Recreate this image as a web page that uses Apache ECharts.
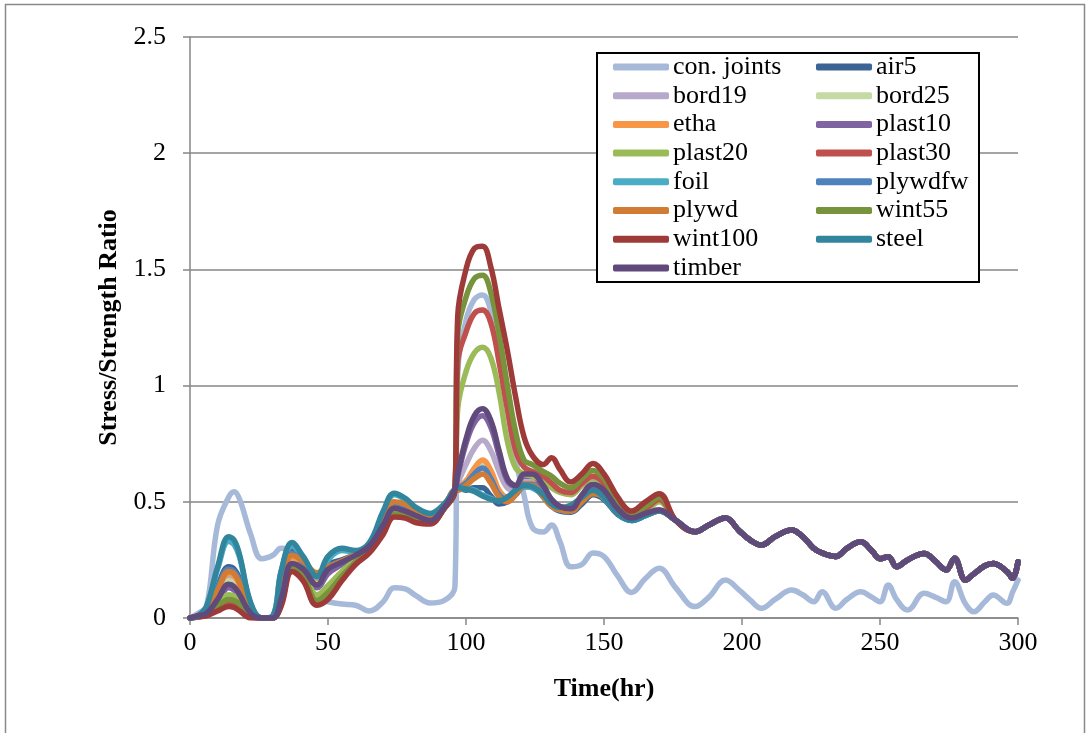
<!DOCTYPE html>
<html><head><meta charset="utf-8">
<script src="https://cdn.jsdelivr.net/npm/echarts@6/dist/echarts.min.js"></script>
<style>html,body{margin:0;padding:0;background:#fff}#c{width:1088px;height:733px}</style>
</head><body><div id="c"></div>
<script>
// time points (hours)
const headTimes = [0,3,6,10,14,16,18,22,26,30,33,37,41,46,50,55,60,65,70,74,78,82,87,92,96,97,100,103,106,109,112,115,118,121,124,128,131,134,138,142,146,150,155,160,165,170];
const tailTimes = [176,183,188,194,199,203,207,212,218,222,226,229,234,238,243,247,250,253,256,260,266,270,274,277,281,284,288,291,296,298,300];

// con. joints over the whole time range
const conJoints = [0,0.02,0.05,0.40,0.52,0.543,0.51,0.36,0.255,0.27,0.30,0.28,0.18,0.085,0.07,0.06,0.055,0.03,0.07,0.13,0.125,0.095,0.065,0.075,0.135,1.05,1.28,1.37,1.39,1.32,1.13,0.9,0.68,0.53,0.39,0.37,0.40,0.33,0.22,0.23,0.28,0.265,0.18,0.11,0.17,0.214,
  0.13,0.049,0.09,0.163,0.12,0.077,0.042,0.08,0.12,0.10,0.07,0.113,0.042,0.08,0.113,0.09,0.07,0.142,0.08,0.034,0.106,0.09,0.07,0.156,0.06,0.027,0.07,0.099,0.063,0.11,0.163];

// the other series, 0-170 hr
const air5Head    = [0,0.01,0.04,0.14,0.22,0.21,0.17,0.04,0,0,0.16,0.29,0.24,0.18,0.23,0.25,0.275,0.315,0.41,0.49,0.48,0.455,0.435,0.48,0.555,0.56,0.55,0.56,0.56,0.525,0.49,0.50,0.53,0.565,0.565,0.52,0.48,0.46,0.455,0.49,0.53,0.51,0.445,0.42,0.44,0.46];
const bord19Head  = [0,0.01,0.03,0.10,0.17,0.16,0.13,0.03,0,0,0.12,0.25,0.22,0.15,0.20,0.235,0.27,0.31,0.40,0.475,0.465,0.445,0.425,0.475,0.555,0.58,0.66,0.73,0.765,0.72,0.63,0.56,0.55,0.60,0.60,0.55,0.50,0.48,0.47,0.52,0.56,0.54,0.46,0.43,0.45,0.465];
const bord25Head  = [0,0.01,0.03,0.10,0.16,0.15,0.12,0.03,0,0,0.12,0.245,0.215,0.15,0.20,0.235,0.27,0.31,0.40,0.47,0.46,0.44,0.42,0.475,0.555,0.56,0.585,0.635,0.665,0.62,0.545,0.515,0.535,0.575,0.575,0.525,0.485,0.465,0.46,0.505,0.54,0.525,0.45,0.425,0.445,0.46];
const ethaHead    = [0,0.01,0.04,0.12,0.19,0.18,0.14,0.035,0,0,0.13,0.26,0.23,0.17,0.21,0.24,0.27,0.31,0.40,0.48,0.47,0.45,0.43,0.475,0.555,0.56,0.59,0.645,0.68,0.635,0.55,0.52,0.54,0.58,0.58,0.53,0.49,0.47,0.465,0.51,0.545,0.53,0.455,0.43,0.45,0.46];
const plast10Head = [0,0.01,0.02,0.07,0.13,0.12,0.09,0.02,0,0,0.08,0.23,0.20,0.13,0.19,0.23,0.265,0.305,0.39,0.465,0.455,0.435,0.415,0.47,0.555,0.61,0.75,0.84,0.87,0.82,0.70,0.59,0.565,0.61,0.61,0.56,0.51,0.48,0.47,0.525,0.57,0.545,0.465,0.43,0.45,0.465];
const plast20Head = [0,0.005,0.02,0.06,0.10,0.095,0.07,0.01,0,0,0.07,0.22,0.19,0.10,0.14,0.20,0.25,0.30,0.38,0.455,0.45,0.43,0.41,0.47,0.55,0.90,1.06,1.14,1.165,1.12,0.97,0.76,0.645,0.62,0.61,0.59,0.56,0.54,0.53,0.57,0.60,0.57,0.48,0.445,0.46,0.50];
const plast30Head = [0,0.005,0.01,0.04,0.07,0.065,0.05,0.005,0,0,0.06,0.21,0.18,0.07,0.10,0.17,0.24,0.29,0.37,0.445,0.44,0.42,0.41,0.47,0.55,1.10,1.23,1.31,1.325,1.27,1.10,0.90,0.72,0.65,0.63,0.61,0.58,0.55,0.54,0.58,0.61,0.58,0.49,0.45,0.47,0.51];
const foilHead    = [0,0.01,0.05,0.21,0.33,0.315,0.26,0.06,0,0.01,0.2,0.31,0.26,0.175,0.25,0.29,0.285,0.32,0.445,0.53,0.51,0.47,0.445,0.485,0.555,0.56,0.555,0.55,0.53,0.515,0.505,0.52,0.545,0.565,0.56,0.525,0.485,0.47,0.48,0.515,0.545,0.515,0.45,0.42,0.44,0.46];
const plywdfwHead = [0,0.01,0.04,0.13,0.21,0.20,0.16,0.04,0,0,0.15,0.28,0.24,0.18,0.22,0.245,0.275,0.315,0.41,0.49,0.48,0.455,0.435,0.48,0.555,0.56,0.58,0.62,0.645,0.60,0.53,0.51,0.535,0.575,0.575,0.525,0.485,0.465,0.46,0.50,0.54,0.52,0.45,0.425,0.445,0.46];
const plywdHead   = [0,0.01,0.04,0.12,0.20,0.19,0.15,0.04,0,0,0.14,0.27,0.245,0.195,0.22,0.245,0.275,0.31,0.41,0.50,0.49,0.46,0.44,0.48,0.55,0.55,0.57,0.60,0.62,0.58,0.52,0.50,0.53,0.57,0.57,0.52,0.48,0.465,0.46,0.50,0.535,0.52,0.45,0.425,0.445,0.46];
const wint55Head  = [0,0.005,0.015,0.05,0.08,0.075,0.06,0.01,0,0,0.06,0.215,0.18,0.075,0.11,0.18,0.24,0.29,0.37,0.445,0.44,0.42,0.41,0.47,0.55,1.22,1.38,1.46,1.475,1.40,1.22,1.00,0.80,0.68,0.66,0.63,0.61,0.58,0.56,0.60,0.635,0.60,0.50,0.455,0.48,0.52];
const wint100Head = [0,0.005,0.01,0.03,0.05,0.045,0.03,0,0,0,0.05,0.20,0.16,0.055,0.08,0.16,0.23,0.28,0.36,0.435,0.43,0.41,0.405,0.47,0.55,1.30,1.50,1.59,1.60,1.51,1.33,1.15,0.95,0.78,0.70,0.66,0.69,0.64,0.585,0.62,0.665,0.62,0.52,0.46,0.50,0.535];
const steelHead   = [0,0.01,0.05,0.22,0.35,0.335,0.27,0.065,0,0.01,0.2,0.325,0.265,0.18,0.265,0.30,0.29,0.325,0.46,0.537,0.515,0.475,0.45,0.49,0.555,0.56,0.555,0.545,0.525,0.51,0.505,0.52,0.55,0.57,0.565,0.53,0.49,0.475,0.485,0.52,0.55,0.52,0.45,0.42,0.44,0.46];
const timberHead  = [0,0.01,0.02,0.08,0.145,0.135,0.10,0.02,0,0,0.08,0.235,0.21,0.142,0.21,0.24,0.27,0.31,0.40,0.472,0.46,0.44,0.42,0.475,0.555,0.62,0.77,0.87,0.90,0.85,0.72,0.60,0.57,0.62,0.62,0.57,0.51,0.48,0.47,0.53,0.575,0.55,0.47,0.43,0.45,0.465];

// 176-300 hr: the 14 material series overlap into one band
const clusterTail = [0.42,0.371,0.40,0.43,0.375,0.335,0.314,0.35,0.379,0.35,0.30,0.28,0.265,0.30,0.328,0.29,0.255,0.264,0.221,0.25,0.278,0.245,0.207,0.257,0.163,0.19,0.225,0.235,0.20,0.171,0.242];

const xTicks = [0,50,100,150,200,250,300];
const yTicks = [0,0.5,1,1.5,2,2.5];

const FONT = "'Liberation Serif','Times New Roman',serif";
const times = headTimes.concat(tailTimes);
function pts(vals){ return times.map((t,i)=>[t, vals[i]]); }

const defs = [
  {name:'con. joints', color:'#a7b9d9', vals: conJoints},
  {name:'air5',     color:'#3b6494', vals: air5Head.concat(clusterTail)},
  {name:'bord19',   color:'#b7a9ca', vals: bord19Head.concat(clusterTail)},
  {name:'bord25',   color:'#c5d9a4', vals: bord25Head.concat(clusterTail)},
  {name:'etha',     color:'#f79646', vals: ethaHead.concat(clusterTail)},
  {name:'plast10',  color:'#8064a2', vals: plast10Head.concat(clusterTail)},
  {name:'plast20',  color:'#9bbb59', vals: plast20Head.concat(clusterTail)},
  {name:'plast30',  color:'#c0504d', vals: plast30Head.concat(clusterTail)},
  {name:'foil',     color:'#4bacc6', vals: foilHead.concat(clusterTail)},
  {name:'plywdfw',  color:'#4f81bd', vals: plywdfwHead.concat(clusterTail)},
  {name:'plywd',    color:'#d07c34', vals: plywdHead.concat(clusterTail)},
  {name:'wint55',   color:'#77933c', vals: wint55Head.concat(clusterTail)},
  {name:'wint100',  color:'#9e3b39', vals: wint100Head.concat(clusterTail)},
  {name:'steel',    color:'#31859c', vals: steelHead.concat(clusterTail)},
  {name:'timber',   color:'#604a7b', vals: timberHead.concat(clusterTail)}
];

const leftNames = ['con. joints','bord19','etha','plast20','foil','plywd','wint100','timber'];
const rightNames = ['air5','bord25','plast10','plast30','plywdfw','wint55','steel'];

const legendCommon = {
  orient:'vertical', top:54, itemWidth:56, itemHeight:7, icon:'roundRect', itemGap:2.7,
  selectedMode:false, z:10, padding:0,
  textStyle:{fontFamily:FONT, fontSize:26, lineHeight:26, color:'#000', padding:[0,0,0,-1]}
};

const chart = echarts.init(document.getElementById('c'), null, {renderer:'canvas'});
chart.setOption({
  animation:false,
  backgroundColor:'#fff',
  grid:{left:190, right:70, top:37, bottom:115, containLabel:false},
  graphic:[
    {type:'rect', z:1, shape:{x:5.5, y:4.5, width:1079, height:760}, style:{fill:'none', stroke:'#898989', lineWidth:1.5}, silent:true},
    {type:'rect', z:8, shape:{x:597, y:53, width:382, height:229}, style:{fill:'#fff', stroke:'#000', lineWidth:2}, silent:true}
  ],
  legend:[
    Object.assign({}, legendCommon, {left:613, data:leftNames}),
    Object.assign({}, legendCommon, {left:816, data:rightNames})
  ],
  xAxis:{
    type:'value', min:0, max:300, interval:50,
    name:'Time(hr)', nameLocation:'middle', nameGap:58,
    nameTextStyle:{fontFamily:FONT, fontSize:26, fontWeight:'bold', color:'#000'},
    axisLine:{show:true, onZero:false, lineStyle:{color:'#868686', width:1.5}},
    axisTick:{show:true, length:7, lineStyle:{color:'#868686', width:1.5}},
    axisLabel:{fontFamily:FONT, fontSize:26, color:'#000', margin:12,
      formatter:function(v){ return xTicks.indexOf(v) >= 0 ? String(v) : ''; }},
    splitLine:{show:false}
  },
  yAxis:{
    type:'value', min:0, max:2.5, interval:0.5,
    name:'Stress/Strength Ratio', nameLocation:'middle', nameGap:60,
    nameTextStyle:{fontFamily:FONT, fontSize:26, fontWeight:'bold', color:'#000'},
    axisLine:{show:true, lineStyle:{color:'#868686', width:1.5}},
    axisTick:{show:true, length:7, lineStyle:{color:'#868686', width:1.5}},
    axisLabel:{fontFamily:FONT, fontSize:26, color:'#000', margin:24,
      formatter:function(v){ return yTicks.indexOf(v) >= 0 ? String(v) : ''; }},
    splitLine:{show:true, lineStyle:{color:'#868686', width:1.5}}
  },
  series: defs.map(d => ({
    name:d.name, type:'line', data:pts(d.vals),
    showSymbol:false, symbol:'none', smooth:0.4,
    color:d.color, lineStyle:{color:d.color, width:5.5, cap:'round', join:'round'},
    emphasis:{disabled:true}, clip:true, z:2
  }))
});
</script>
</body></html>
